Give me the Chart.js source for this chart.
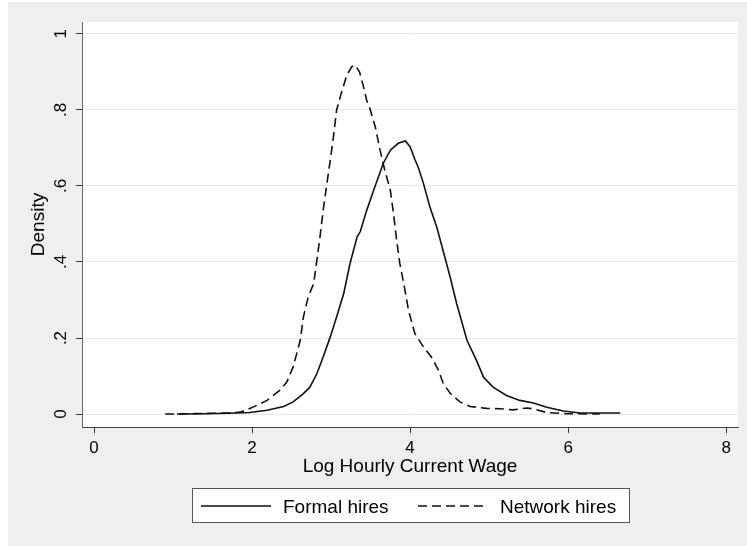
<!DOCTYPE html>
<html><head><meta charset="utf-8">
<script src="https://cdn.jsdelivr.net/npm/chart.js@4"></script>
<style>html,body{margin:0;padding:0;background:#fff;} #wrap{width:747px;height:546px;}</style>
</head><body><div id="wrap"><canvas id="c" width="747" height="546"></canvas></div>
<script>
// ---- data (kernel density estimates) ----
const formalX = [1.05,1.4,1.7,1.97,2.19,2.4,2.52,2.65,2.73,2.82,2.9,2.99,3.07,3.16,3.24,3.33,3.37,3.45,3.54,3.6,3.66,3.75,3.85,3.94,4.0,4.06,4.11,4.17,4.25,4.34,4.42,4.51,4.59,4.72,4.84,4.93,5.05,5.22,5.39,5.56,5.73,5.94,6.15,6.66];
const formalY = [0.0,0.001,0.002,0.004,0.01,0.02,0.032,0.054,0.07,0.106,0.15,0.203,0.255,0.317,0.396,0.466,0.48,0.535,0.589,0.624,0.659,0.694,0.712,0.718,0.703,0.67,0.645,0.606,0.545,0.49,0.428,0.358,0.29,0.194,0.141,0.097,0.071,0.049,0.036,0.029,0.018,0.008,0.003,0.003];
const networkX = [0.9,1.2,1.5,1.7,1.85,2.0,2.19,2.35,2.44,2.52,2.61,2.65,2.71,2.78,2.82,2.86,2.9,2.95,2.99,3.03,3.07,3.14,3.2,3.26,3.3,3.36,3.41,3.45,3.49,3.56,3.62,3.68,3.75,3.79,3.83,3.87,3.92,3.98,4.06,4.17,4.27,4.36,4.42,4.51,4.63,4.76,4.97,5.14,5.3,5.48,5.55,5.73,5.98,6.4];
const networkY = [0.0,0.001,0.002,0.003,0.005,0.017,0.036,0.062,0.084,0.124,0.194,0.255,0.308,0.343,0.404,0.466,0.536,0.61,0.668,0.729,0.799,0.852,0.891,0.913,0.918,0.9,0.861,0.826,0.804,0.755,0.694,0.641,0.589,0.527,0.457,0.396,0.343,0.273,0.212,0.176,0.15,0.115,0.08,0.054,0.032,0.02,0.015,0.014,0.011,0.016,0.014,0.004,0.001,0.0];
const seriesLabels = ['Formal hires', 'Network hires'];
const xTicks = [0, 2, 4, 6, 8];
const xTickLabels = ['0', '2', '4', '6', '8'];
const yTicks = [0, 0.2, 0.4, 0.6, 0.8, 1];
const yTickLabels = ['0', '.2', '.4', '.6', '.8', '1'];
const xTitle = 'Log Hourly Current Wage';
const yTitle = 'Density';

const FONT = "'Liberation Sans', Arial, sans-serif";
const toPts = (xs, ys) => xs.map((x, i) => ({x: x, y: ys[i]}));

const bgPlugin = {
  id: 'bg',
  beforeDraw(chart) {
    const {ctx, chartArea: a} = chart;
    ctx.save();
    ctx.fillStyle = '#ffffff';
    ctx.fillRect(0, 0, chart.width, chart.height);
    ctx.fillStyle = '#efefef';
    ctx.fillRect(8, 2, chart.width - 8, chart.height - 2);
    ctx.fillStyle = '#ffffff';
    ctx.fillRect(a.left, a.top, a.right - a.left, a.bottom - a.top);
    ctx.restore();
  }
};

const yLabelPlugin = {
  id: 'ylabels',
  afterDraw(chart) {
    const {ctx} = chart;
    const ys = chart.scales.y;
    ctx.save();
    ctx.fillStyle = '#000';
    ctx.font = '17px ' + FONT;
    ctx.textAlign = 'center';
    ctx.textBaseline = 'alphabetic';
    yTicks.forEach((v, i) => {
      const py = ys.getPixelForValue(v);
      ctx.save();
      ctx.translate(chart.chartArea.left - 16.5, py);
      ctx.rotate(-Math.PI / 2);
      ctx.fillText(yTickLabels[i], 0, 0);
      ctx.restore();
    });
    ctx.restore();
  }
};

const legendPlugin = {
  id: 'stataLegend',
  afterDraw(chart) {
    const {ctx, chartArea: a} = chart;
    const cx = (a.left + a.right) / 2;
    const bw = 437, bh = 34, top = 488.5;
    const left = Math.round(cx - bw / 2) + 0.5;
    ctx.save();
    ctx.fillStyle = '#fff';
    ctx.fillRect(left, top, bw, bh);
    ctx.strokeStyle = '#555';
    ctx.lineWidth = 1;
    ctx.strokeRect(left, top, bw, bh);
    const offs = [[-209, -127], [8, 90]];
    const ly = top + 17.5;
    chart.data.datasets.forEach((ds, i) => {
      ctx.beginPath();
      ctx.setLineDash(ds.borderDash || []);
      ctx.strokeStyle = ds.borderColor;
      ctx.lineWidth = ds.borderWidth;
      ctx.moveTo(cx + offs[i][0], ly);
      ctx.lineTo(cx + offs[i][0] + 70, ly);
      ctx.stroke();
      ctx.setLineDash([]);
      ctx.fillStyle = '#000';
      ctx.font = '19px ' + FONT;
      ctx.textAlign = 'left';
      ctx.textBaseline = 'alphabetic';
      ctx.fillText(ds.label, cx + offs[i][1], top + 24.5);
    });
    ctx.restore();
  }
};

new Chart(document.getElementById('c'), {
  type: 'line',
  data: {
    datasets: [
      {label: seriesLabels[0], data: toPts(formalX, formalY), borderColor: '#111', borderWidth: 1.6, pointRadius: 0, tension: 0, fill: false},
      {label: seriesLabels[1], data: toPts(networkX, networkY), borderColor: '#111', borderWidth: 1.6, borderDash: [9, 5], pointRadius: 0, tension: 0, fill: false}
    ]
  },
  options: {
    responsive: false,
    animation: false,
    layout: {padding: {top: 22, right: 9, left: 0, bottom: 0}},
    plugins: {legend: {display: false}, tooltip: {enabled: false}},
    scales: {
      x: {
        type: 'linear', min: -0.152, max: 8.15,
        afterBuildTicks: s => { s.ticks = xTicks.map(v => ({value: v})); },
        afterFit: s => { s.height = 119; },
        ticks: {
          font: {family: FONT, size: 17}, color: '#000', padding: 5, maxRotation: 0,
          callback: (v) => xTickLabels[xTicks.indexOf(v)]
        },
        grid: {drawOnChartArea: false, drawTicks: true, tickLength: 6, tickColor: '#333', lineWidth: 1},
        border: {display: true, color: '#444', width: 1},
        title: {display: true, text: xTitle, color: '#000', font: {family: FONT, size: 19}, padding: 68}
      },
      y: {
        type: 'linear', min: -0.034, max: 1.031,
        afterBuildTicks: s => { s.ticks = yTicks.map(v => ({value: v})); },
        afterFit: s => { s.width = 82; },
        ticks: {display: false},
        grid: {drawOnChartArea: true, color: '#e6e6e6', drawTicks: true, tickLength: 6, tickColor: '#333', lineWidth: 1},
        border: {display: true, color: '#666', width: 1},
        title: {display: true, text: yTitle, color: '#000', font: {family: FONT, size: 19}, padding: 27}
      }
    }
  },
  plugins: [bgPlugin, yLabelPlugin, legendPlugin]
});
</script>
</body></html>
